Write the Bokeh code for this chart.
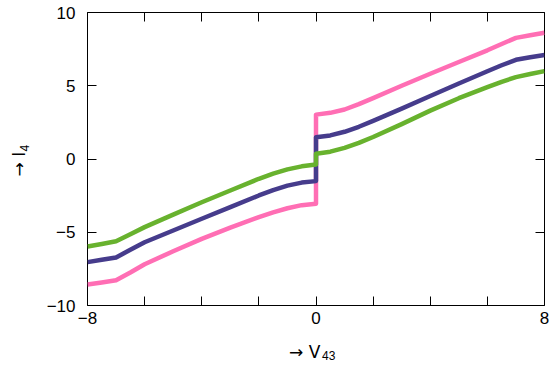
import math
from bokeh.plotting import figure
from bokeh.models import Range1d, LinearAxis, FixedTicker, Label
from bokeh.embed import file_html
from bokeh.resources import INLINE

# ---- data ----
v43 = [-8, -7.5, -7, -6.5, -6, -5, -4, -3, -2, -1.5, -1, -0.5, 0, 0,
       0.5, 1, 1.5, 2, 3, 4, 5, 6, 6.5, 7, 7.5, 8]
i4_pink = [-8.57, -8.43, -8.28, -7.75, -7.18, -6.3, -5.45, -4.68, -3.97, -3.64, -3.36, -3.15, -3.05,
           3.03, 3.15, 3.38, 3.75, 4.16, 5.0, 5.82, 6.62, 7.42, 7.85, 8.27, 8.45, 8.62]
i4_blue = [-7.04, -6.88, -6.72, -6.2, -5.68, -4.88, -4.08, -3.28, -2.49, -2.12, -1.82, -1.61, -1.51,
           1.49, 1.61, 1.86, 2.2, 2.6, 3.44, 4.3, 5.15, 5.99, 6.4, 6.77, 6.95, 7.1]
i4_green = [-5.97, -5.8, -5.62, -5.13, -4.65, -3.8, -2.95, -2.15, -1.35, -1.0, -0.71, -0.5, -0.38,
            0.36, 0.5, 0.76, 1.1, 1.5, 2.38, 3.3, 4.15, 4.9, 5.27, 5.59, 5.8, 6.0]

x_ticks = [-8, -6, -4, -2, 0, 2, 4, 6, 8]
x_tick_labels = {-8: "\u22128", 0: "0", 8: "8"}
y_ticks = [-10, -5, 0, 5, 10]
y_tick_labels = {-10: "\u221210", -5: "\u22125", 0: "0", 5: "5", 10: "10"}

FONT = "Liberation Sans"
TITLE_FONT = "DejaVu Sans"

p = figure(width=550, height=365, output_backend="svg", toolbar_location=None,
           x_range=Range1d(-8, 8), y_range=Range1d(-10, 10),
           x_axis_type=None, y_axis_type=None,
           min_border_left=87, min_border_right=6, min_border_top=12, min_border_bottom=60)
p.background_fill_color = "white"
p.border_fill_color = "white"
p.outline_line_color = "black"
p.outline_line_width = 1
p.xgrid.visible = False
p.ygrid.visible = False


def make_axis(ticks, labels, show_labels, standoff):
    ax = LinearAxis(ticker=FixedTicker(ticks=ticks, minor_ticks=[]))
    ax.major_label_overrides = {k: (labels.get(k, "") if show_labels else "") for k in ticks}
    ax.major_tick_in = 9
    ax.major_tick_out = 0
    ax.minor_tick_in = 0
    ax.minor_tick_out = 0
    ax.major_tick_line_color = "black"
    ax.axis_line_color = None
    ax.major_label_text_font = FONT
    ax.major_label_text_font_size = "17px" if show_labels else "0px"
    ax.major_label_text_color = "black"
    ax.major_label_standoff = standoff
    return ax


p.add_layout(make_axis(x_ticks, x_tick_labels, True, 6), "below")
p.add_layout(make_axis(y_ticks, y_tick_labels, True, 12), "left")
p.add_layout(make_axis(x_ticks, x_tick_labels, False, 0), "above")
p.add_layout(make_axis(y_ticks, y_tick_labels, False, 0), "right")

p.line(v43, i4_pink, line_color="#ff6eb4", line_width=4.5, line_join="round")
p.line(v43, i4_blue, line_color="#463c8c", line_width=4.5, line_join="round")
p.line(v43, i4_green, line_color="#68b22e", line_width=4.5, line_join="round")


def title_part(text, x, y, dx, dy, font, size, side, angle=0.0):
    p.add_layout(Label(x=x, y=y, x_offset=dx, y_offset=dy, text=text, angle=angle,
                       text_font=font, text_font_size=size, text_baseline="alphabetic",
                       text_align="left", text_color="black"), side)


# x axis title: "→ V43" (43 as subscript)
title_part("\u2192 V", 0, -10, -27, -46.5, TITLE_FONT, "17px", "below")
title_part("43", 0, -10, 6, -49.5, FONT, "12px", "below")

# y axis title: "→ I4" (4 as subscript), rotated
title_part("\u2192 I", -8, 0, -68.5, -17.5, TITLE_FONT, "17px", "left", math.pi / 2)
title_part("4", -8, 0, -63, 7.5, FONT, "12px", "left", math.pi / 2)

open("out.html", "w").write(file_html(p, INLINE))
